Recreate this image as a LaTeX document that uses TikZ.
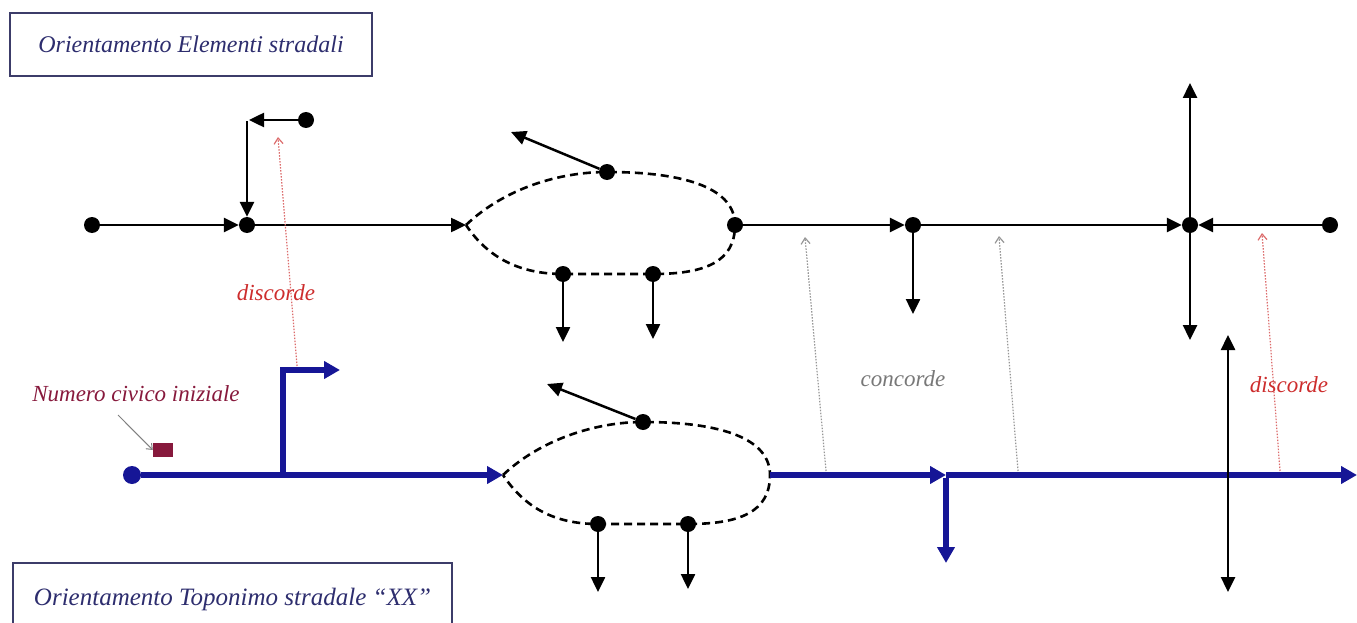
\documentclass[tikz,border=0pt]{standalone}
\usepackage{fontspec}
\setmainfont{Liberation Serif}
\usetikzlibrary{arrows.meta}
\definecolor{roadblue}{RGB}{22,22,150}
\definecolor{boxline}{RGB}{60,60,105}
\definecolor{boxtext}{RGB}{45,45,110}
\definecolor{redtxt}{RGB}{205,45,45}
\definecolor{maroon}{RGB}{135,25,60}
\definecolor{hintgray}{RGB}{150,150,150}
\begin{document}
\begin{tikzpicture}[x=1pt,y=-1pt,
  dot/.style={circle,fill=black,inner sep=0pt,minimum size=16pt},
  bdot/.style={circle,fill=roadblue,inner sep=0pt,minimum size=18pt},
  road/.style={line width=2.5pt,draw=black},
  tip/.style={-{Triangle[length=15pt,width=14pt]}},
  btip/.style={-{Triangle[length=16pt,width=17pt]}},
  dtip/.style={{Triangle[length=15pt,width=14pt]}-{Triangle[length=15pt,width=14pt]}},
  blueroad/.style={line width=5.5pt,draw=roadblue},
  ring/.style={draw=black,line width=2.6pt,dash pattern=on 8pt off 5pt},
  hint/.style={line width=1.2pt,dash pattern=on 1.5pt off 1.5pt,-{Straight Barb[length=6pt,width=9pt]}},
  titlebox/.style={draw=boxline,line width=2.8pt,fill=white,text=boxtext,font=\fontsize{24}{28}\selectfont\itshape,inner sep=0pt},
  lbl/.style={font=\fontsize{23}{27}\selectfont\itshape,inner sep=0pt}
]
\useasboundingbox (0,0) rectangle (1357,623);

% title boxes
\node[titlebox,minimum width=362pt,minimum height=63pt] (tbox) at (191,44.5) {Orientamento Elementi stradali};
\node[titlebox,minimum width=439pt,minimum height=72pt,font=\fontsize{25}{29}\selectfont\itshape] (bbox) at (232.5,599) {Orientamento Toponimo stradale ``XX''};

% ---------- top road (elementi stradali) ----------
\node[dot] (a1) at (92,225) {};
\node[dot] (a2) at (247,225) {};
\node[dot] (a3) at (306,120) {};
\coordinate (a3c) at (247,120);
\coordinate (a3e) at (249,120);
\draw[road,tip] (a1) -- (a2);
\draw[road,tip] (a3) -- (a3e);
\draw[road,tip] ([yshift=-1.2pt]a3c) -- (a2);

\coordinate (e1L) at (466,225);
\node[dot] (e1t) at (607,172) {};
\node[dot] (e1b1) at (563,274) {};
\node[dot] (e1b2) at (653,274) {};
\node[dot] (e1r) at (735,225) {};
\draw[ring] (e1L) .. controls (505,188) and (560,172) .. (607,172)
  .. controls (690,172) and (735,190) .. (735,225)
  .. controls (735,262) and (705,274) .. (653,274)
  -- (563,274) .. controls (520,274) and (488,258) .. (e1L);
\draw[road,tip] (a2) -- (e1L);
\coordinate (e1tE) at (511,132);
\coordinate (e1b1E) at (563,342);
\coordinate (e1b2E) at (653,339);
\draw[road,tip] (e1t) -- (e1tE);
\draw[road,tip] (e1b1) -- (e1b1E);
\draw[road,tip] (e1b2) -- (e1b2E);

\node[dot] (a4) at (913,225) {};
\node[dot] (a5) at (1190,225) {};
\node[dot] (a6) at (1330,225) {};
\draw[road,tip] (e1r) -- (a4);
\draw[road,tip] (a4) -- (a5);
\draw[road,tip] (a6) -- (a5);
\coordinate (a4E) at (913,314);
\coordinate (a5U) at (1190,83);
\coordinate (a5D) at (1190,340);
\draw[road,tip] (a4) -- (a4E);
\draw[road,tip] (a5) -- (a5U);
\draw[road,tip] (a5) -- (a5D);

% ---------- bottom road (toponimo) ----------
\node[bdot] (b1) at (132,475) {};
\coordinate (bj) at (283,475);
\coordinate (bt) at (340,370);
\coordinate (e2L) at (503,475);
\draw[blueroad,btip] (b1) -- (e2L);
\draw[blueroad,btip] ([yshift=2.5pt]bj) |- (bt);

\node[dot] (e2t) at (643,422) {};
\node[dot] (e2b1) at (598,524) {};
\node[dot] (e2b2) at (688,524) {};
\coordinate (e2R) at (770,475);
\draw[ring] (e2L) .. controls (540,440) and (595,422) .. (643,422)
  .. controls (725,422) and (770,440) .. (e2R)
  .. controls (770,512) and (740,524) .. (688,524)
  -- (598,524) .. controls (555,524) and (525,508) .. (e2L);
\coordinate (e2tE) at (547,384);
\coordinate (e2b1E) at (598,592);
\coordinate (e2b2E) at (688,589);
\draw[road,tip] (e2t) -- (e2tE);
\draw[road,tip] (e2b1) -- (e2b1E);
\draw[road,tip] (e2b2) -- (e2b2E);

\coordinate (bj2) at (946,475);
\coordinate (bEnd) at (1357,475);
\coordinate (bDown) at (946,563);
\draw[blueroad,btip] (e2R) -- (bj2);
\draw[blueroad,btip] (bj2) -- (bEnd);
\draw[blueroad,btip] ([yshift=-2.5pt]bj2) -- (bDown);

\coordinate (vU) at (1228,335);
\coordinate (vD) at (1228,592);
\draw[road,dtip] (vU) -- (vD);

% ---------- hints ----------
\coordinate (h1s) at (297,366);
\coordinate (h1e) at (278,137);
\coordinate (h2s) at (826,471);
\coordinate (h2e) at (805,237);
\coordinate (h3s) at (1018,471);
\coordinate (h3e) at (999,236);
\coordinate (h4s) at (1280,471);
\coordinate (h4e) at (1262,233);
\draw[hint,draw=redtxt!70] (h1s) -- (h1e);
\draw[hint,draw=hintgray] (h2s) -- (h2e);
\draw[hint,draw=hintgray] (h3s) -- (h3e);
\draw[hint,draw=redtxt!70] (h4s) -- (h4e);

% ---------- labels ----------
\node[lbl,text=redtxt] (ld1) at (276,293) {discorde};
\node[lbl,text=hintgray!80!black] (lc) at (903,379) {concorde};
\node[lbl,text=redtxt] (ld2) at (1289,385) {discorde};
\node[lbl,text=maroon] (lnum) at (136,394) {Numero civico iniziale};

\node[fill=maroon,inner sep=0pt,minimum width=20pt,minimum height=14pt] (civ) at (163,450) {};
\coordinate (civS) at (118,415);
\draw[line width=1pt,draw=gray,-{Straight Barb[length=5pt,width=8pt]}] (civS) -- (civ.west);
\end{tikzpicture}
\end{document}
